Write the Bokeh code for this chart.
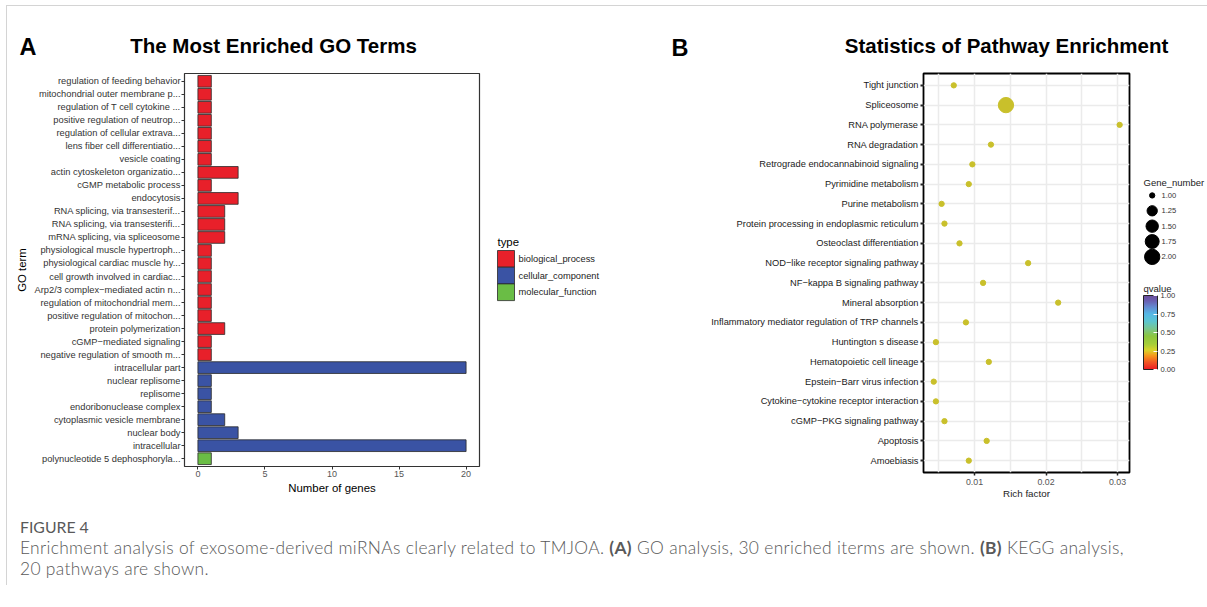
import numpy as np
from bokeh.plotting import figure
from bokeh.models import (ColumnDataSource, FactorRange, Range1d, FixedTicker,
                          LinearColorMapper, ColorBar, Div, PrintfTickFormatter)
from bokeh.layouts import column, row
from bokeh.embed import file_html
from bokeh.resources import INLINE
from bokeh.core.properties import value

# ---------------- data: panel A (GO terms) ----------------
go_terms = [
    "regulation of feeding behavior",
    "mitochondrial outer membrane p...",
    "regulation of T cell cytokine ...",
    "positive regulation of neutrop...",
    "regulation of cellular extrava...",
    "lens fiber cell differentiatio...",
    "vesicle coating",
    "actin cytoskeleton organizatio...",
    "cGMP metabolic process",
    "endocytosis",
    "RNA splicing, via transesterif...",
    "RNA splicing, via transesterifi...",
    "mRNA splicing, via spliceosome",
    "physiological muscle hypertroph...",
    "physiological cardiac muscle hy...",
    "cell growth involved in cardiac...",
    "Arp2/3 complex\u2212mediated actin n...",
    "regulation of mitochondrial mem...",
    "positive regulation of mitochon...",
    "protein polymerization",
    "cGMP\u2212mediated signaling",
    "negative regulation of smooth m...",
    "intracellular part",
    "nuclear replisome",
    "replisome",
    "endoribonuclease complex",
    "cytoplasmic vesicle membrane",
    "nuclear body",
    "intracellular",
    "polynucleotide 5 dephosphoryla...",
]
go_types = (["biological_process"] * 22 + ["cellular_component"] * 7 + ["molecular_function"])
go_counts = [1, 1, 1, 1, 1, 1, 1, 3, 1, 3, 2, 2, 2, 1, 1, 1, 1, 1, 1, 2, 1, 1,
             20, 1, 1, 1, 2, 3, 20, 1]
type_names = ["biological_process", "cellular_component", "molecular_function"]
type_colors = ["#E8202A", "#3A53A4", "#6ABD45"]
go_xticks = [0, 5, 10, 15, 20]

# ---------------- data: panel B (KEGG pathways) ----------------
pathways = [
    "Tight junction",
    "Spliceosome",
    "RNA polymerase",
    "RNA degradation",
    "Retrograde endocannabinoid signaling",
    "Pyrimidine metabolism",
    "Purine metabolism",
    "Protein processing in endoplasmic reticulum",
    "Osteoclast differentiation",
    "NOD\u2212like receptor signaling pathway",
    "NF\u2212kappa B signaling pathway",
    "Mineral absorption",
    "Inflammatory mediator regulation of TRP channels",
    "Huntington s disease",
    "Hematopoietic cell lineage",
    "Epstein\u2212Barr virus infection",
    "Cytokine\u2212cytokine receptor interaction",
    "cGMP\u2212PKG signaling pathway",
    "Apoptosis",
    "Amoebiasis",
]
rich_factor = [0.0071, 0.0144, 0.0303, 0.0123, 0.0097, 0.0092, 0.0054, 0.0058, 0.0079,
               0.0175, 0.0112, 0.0217, 0.0088, 0.0046, 0.0120, 0.0043, 0.0046, 0.0058,
               0.0117, 0.0092]
gene_number = [1, 2, 1, 1, 1, 1, 1, 1, 1, 1, 1, 1, 1, 1, 1, 1, 1, 1, 1, 1]
rich_ticks = [0.01, 0.02, 0.03]
rich_minor = [0.005, 0.015, 0.025]
size_legend_values = [1.00, 1.25, 1.50, 1.75, 2.00]
qvalue_ticks = [0.0, 0.25, 0.50, 0.75, 1.00]

FONT = "Liberation Sans"
DOT_COLOR = "#C9C02B"


def size_px(v):
    v = np.asarray(v, dtype=float)
    return 5.3 + 10.0 * np.sqrt((v - 1.0) / (2.0 - 1.0))


# qvalue colour scale
anchors = [(0.0, "#ED1C24"), (0.1, "#F15A24"), (0.18, "#F7931E"), (0.26, "#D9D42B"),
           (0.34, "#A6CE39"), (0.45, "#8CC63F"), (0.55, "#7AC68E"), (0.65, "#5CC6D0"),
           (0.75, "#55B8E6"), (0.85, "#6488D0"), (0.93, "#6A5FB0"), (1.0, "#6B4C9A")]


def _rgb(h):
    return [int(h[i:i + 2], 16) for i in (1, 3, 5)]


_pos = np.linspace(0, 1, 256)
_ts = [a[0] for a in anchors]
_cols = np.array([_rgb(a[1]) for a in anchors], dtype=float)
_ch = [np.interp(_pos, _ts, _cols[:, k]) for k in range(3)]
palette = ["#%02x%02x%02x" % (int(round(r)), int(round(g)), int(round(b)))
           for r, g, b in zip(*_ch)]


def blank(width, height, xr, yr, top=0, bottom=0):
    f = figure(width=width, height=height, x_range=Range1d(*xr), y_range=Range1d(*yr),
               title=None, toolbar_location=None, output_backend="svg",
               min_border_left=0, min_border_right=0, min_border_top=top,
               min_border_bottom=bottom, x_axis_location=None, y_axis_location=None,
               outline_line_color=None)
    f.grid.visible = False
    return f


# ---------------- header (panel letters & titles) ----------------
header = blank(1190, 56, (9, 1199), (65, 9))
header.text(x=[19, 671], y=[46.5, 47.5], text=["A", "B"], text_font=value(FONT),
            text_font_style="bold", text_font_size="23.5px", text_baseline="middle",
            text_align="left", text_color="black")
header.text(x=[273, 1006], y=[44.5, 44.5],
            text=["The Most Enriched GO Terms", "Statistics of Pathway Enrichment"],
            text_font=value(FONT), text_font_style="bold", text_font_size="20.5px",
            text_baseline="middle", text_align="center", text_color="black")

# ---------------- panel A ----------------
pA = figure(y_range=FactorRange(factors=go_terms[::-1], range_padding=0.1,
                                range_padding_units="absolute"),
            x_range=Range1d(-1, 21), frame_width=295, frame_height=393, title=None,
            min_border_left=175, min_border_right=2, min_border_top=8, min_border_bottom=44,
            toolbar_location=None, output_backend="svg")
for tname, tcolor in zip(type_names, type_colors):
    idx = [i for i, t in enumerate(go_types) if t == tname]
    src = ColumnDataSource(dict(term=[go_terms[i] for i in idx], n=[go_counts[i] for i in idx]))
    pA.hbar(y="term", left=0, right="n", height=0.9, source=src, fill_color=tcolor,
            line_color="#2a2a2a", line_width=0.8)
pA.grid.visible = False
pA.outline_line_color = "#333333"
pA.outline_line_width = 1.2
for ax in (pA.xaxis, pA.yaxis):
    ax.axis_line_color = None
    ax.major_tick_line_color = "#333333"
    ax.major_tick_out = 3
    ax.major_tick_in = 0
    ax.minor_tick_line_color = None
    ax.axis_label_text_font = FONT
    ax.axis_label_text_font_style = "normal"
    ax.axis_label_text_font_size = "11.4px"
    ax.axis_label_text_color = "black"
    ax.major_label_text_font = FONT
pA.xaxis.ticker = FixedTicker(ticks=go_xticks)
pA.xaxis.major_label_text_font_size = "9px"
pA.xaxis.major_label_text_color = "#555555"
pA.xaxis.major_label_standoff = 1
pA.xaxis.axis_label = "Number of genes"
pA.xaxis.axis_label_standoff = 2
pA.yaxis.major_label_text_font_size = "9.3px"
pA.yaxis.major_label_text_color = "#333333"
pA.yaxis.major_label_standoff = 1
pA.yaxis.axis_label = "GO term"
pA.yaxis.axis_label_standoff = 4

# ---------------- panel A legend ----------------
legA = blank(179, 445, (481, 660), (466, 73), top=8, bottom=44)
n_types = len(type_names)
key_top = [250 + 16.7 * i for i in range(n_types)]
legA.quad(left=[497] * n_types, right=[514] * n_types, top=key_top,
          bottom=[t + 16.7 for t in key_top], fill_color=type_colors,
          line_color="#2a2a2a", line_width=0.8)
legA.text(x=[518] * n_types, y=[t + 8.35 for t in key_top], text=type_names,
          text_font=value(FONT), text_font_size="9.3px", text_baseline="middle",
          text_align="left", text_color="#222222")
legA.text(x=[497], y=[241], text=["type"], text_font=value(FONT), text_font_size="11.4px",
          text_baseline="middle", text_align="left", text_color="black")

# ---------------- panel B ----------------
srcB = ColumnDataSource(dict(pw=pathways, rf=rich_factor, sz=list(size_px(gene_number))))
pB = figure(y_range=FactorRange(factors=pathways[::-1], range_padding=0.1,
                                range_padding_units="absolute"),
            x_range=Range1d(0.002867, 0.031678), frame_width=206, frame_height=399, title=None,
            min_border_left=263, min_border_right=4, min_border_top=8, min_border_bottom=38,
            toolbar_location=None, output_backend="svg")
pB.scatter(x="rf", y="pw", size="sz", source=srcB, fill_color=DOT_COLOR, line_color=DOT_COLOR)
pB.outline_line_color = "black"
pB.outline_line_width = 1.8
pB.xaxis.ticker = FixedTicker(ticks=rich_ticks, minor_ticks=rich_minor)
pB.xgrid.ticker = FixedTicker(ticks=rich_ticks, minor_ticks=rich_minor)
pB.grid.grid_line_color = "#EBEBEB"
pB.grid.grid_line_width = 1.5
pB.xgrid.minor_grid_line_color = "#EBEBEB"
pB.xgrid.minor_grid_line_width = 1.5
for ax in (pB.xaxis, pB.yaxis):
    ax.axis_line_color = None
    ax.major_tick_line_color = "#222222"
    ax.major_tick_out = 3
    ax.major_tick_in = 0
    ax.minor_tick_line_color = None
    ax.axis_label_text_font = FONT
    ax.axis_label_text_font_style = "normal"
    ax.axis_label_text_font_size = "9.8px"
    ax.axis_label_text_color = "#222222"
    ax.major_label_text_font = FONT
pB.yaxis.major_tick_line_width = 2
pB.xaxis.major_tick_line_width = 1.5
pB.xaxis.major_label_text_font_size = "8.8px"
pB.xaxis.major_label_text_color = "#555555"
pB.xaxis.major_label_standoff = 2
pB.xaxis.axis_label = "Rich factor"
pB.xaxis.axis_label_standoff = 0
pB.yaxis.major_label_text_font_size = "9.3px"
pB.yaxis.major_label_text_color = "#1a1a1a"
pB.yaxis.major_label_standoff = 2

# ---------------- panel B legends ----------------
leg = blank(72, 445, (1133, 1205), (469, 70), top=8, bottom=38)
leg.text(x=[1143], y=[180.5], text=["Gene_number"], text_font=value(FONT),
         text_font_size="9.5px", text_baseline="middle", text_align="left",
         text_color="#222222")
leg_y = [193.8 + 15.6 * i for i in range(len(size_legend_values))]
leg.scatter(x=[1151.7] * len(size_legend_values), y=leg_y, size=list(size_px(size_legend_values)),
            fill_color="black", line_color="black")
leg.text(x=[1161] * len(size_legend_values), y=leg_y,
         text=["%.2f" % v for v in size_legend_values], text_font=value(FONT),
         text_font_size="7.6px", text_baseline="middle", text_align="left", text_color="#333333")
leg.text(x=[1143], y=[288], text=["qvalue"], text_font=value(FONT),
         text_font_size="9.5px", text_baseline="middle", text_align="left",
         text_color="#222222")

cmap = LinearColorMapper(palette=palette, low=0, high=1)
cb = ColorBar(color_mapper=cmap, location=(10, 97), orientation="vertical", width=14, height=74,
              ticker=FixedTicker(ticks=qvalue_ticks), formatter=PrintfTickFormatter(format="%.2f"),
              title=None,
              major_label_text_font=FONT, major_label_text_font_size="7.6px",
              major_label_text_color="#333333", label_standoff=3,
              major_tick_line_color="white", major_tick_in=4, major_tick_out=0,
              minor_tick_line_color=None, bar_line_color="#222222", bar_line_width=1,
              padding=0, margin=0, background_fill_alpha=0, border_line_color=None)
leg.add_layout(cb, "center")

# ---------------- caption ----------------
caption_title = "FIGURE 4"
caption_body = ("Enrichment analysis of exosome-derived miRNAs clearly related to TMJOA. "
                "<b style='font-weight:700'>(A)</b> GO analysis, 30 enriched iterms are shown. "
                "<b style='font-weight:700'>(B)</b> KEGG analysis,"
                "<br>20 pathways are shown.")
caption = Div(width=1190, text=(
    "<div style=\"padding:1px 0 0 6px;font-family:'Lato';color:#595959;\">"
    "<div style='font-size:15.8px;line-height:21px;letter-spacing:0px;'>" + caption_title
    + "</div>"
    "<div style='font-size:17.4px;line-height:21px;font-weight:300;letter-spacing:0.32px;'>"
    + caption_body + "</div></div>"))

layout = column(header, row(pA, legA, pB, leg), caption,
                styles={"border-top": "1px solid #d4d4d4", "border-left": "1px solid #d4d4d4",
                        "margin-top": "5px", "margin-left": "6px",
                        "padding-top": "3px", "padding-left": "2px"})

open("out.html", "w").write(file_html(layout, INLINE))
